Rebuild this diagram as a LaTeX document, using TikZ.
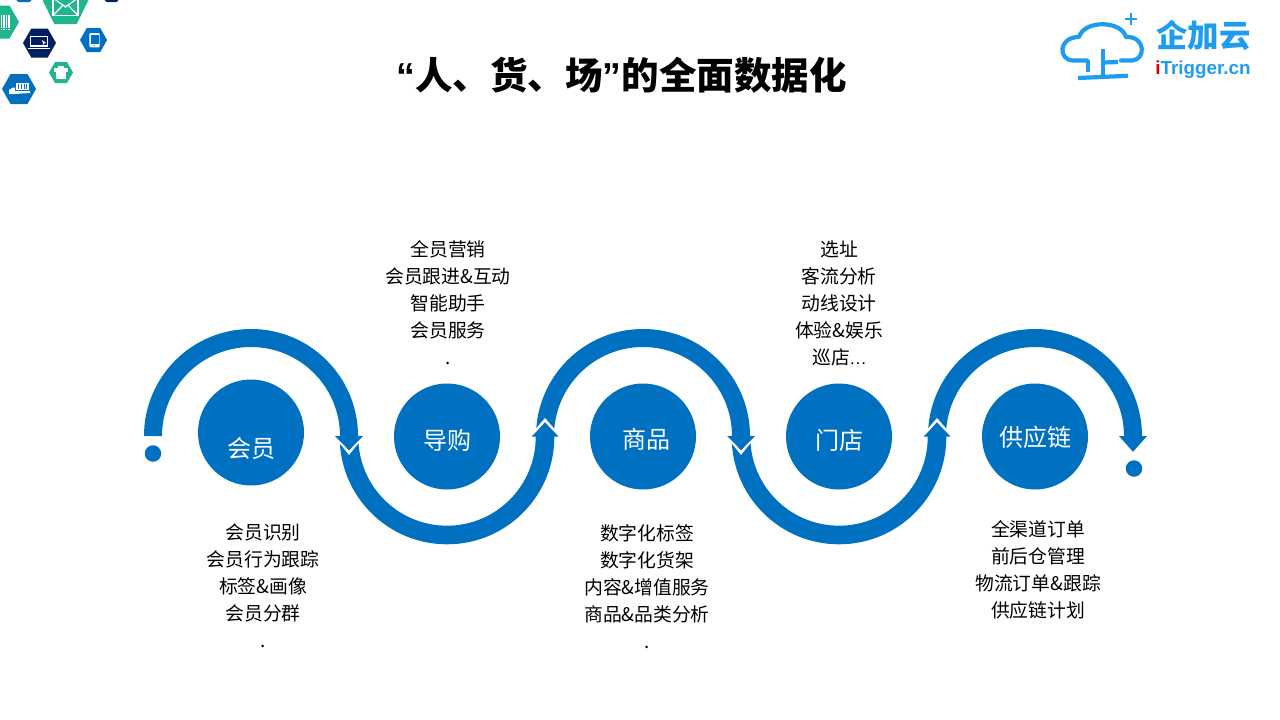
\documentclass[tikz,border=0pt]{standalone}
\usepackage{fontspec}
\setmainfont{Noto Sans CJK SC}
\newfontfamily\latinb[BoldFont={Liberation Sans Bold}]{Liberation Sans}
\definecolor{mainblue}{HTML}{0070C0}
\definecolor{hexgreen}{HTML}{1FB58F}
\definecolor{hexnavy}{HTML}{002060}
\definecolor{logoblue}{HTML}{1E9CF0}
\newcommand{\hexa}[5]{\fill[#1] ({#2-#4},#3) -- ({#2-#4/2},{#3-#5}) -- ({#2+#4/2},{#3-#5}) -- ({#2+#4},#3) -- ({#2+#4/2},{#3+#5}) -- ({#2-#4/2},{#3+#5}) -- cycle;}
\tikzset{
  band/.style={draw=mainblue,line width=18pt,line cap=butt},
  lowband/.style={draw=mainblue,line width=18.6pt,line cap=butt},
  stepdisc/.style={circle,fill=mainblue,minimum size=106pt,inner sep=0pt},
  enddot/.style={circle,fill=mainblue,minimum size=16.5pt,inner sep=0pt},
  disctext/.style={text=white,font=\fontsize{24}{26}\selectfont,inner sep=0pt},
  listtext/.style={text=black,align=center,inner sep=0pt,font=\fontsize{18.8}{27}\selectfont},
  headfill/.style={fill=mainblue},
  notch/.style={draw=white,line width=2.6pt,line join=miter},
  logoline/.style={draw=logoblue,line width=4.2pt,line cap=round,line join=round},
  iconline/.style={draw=white,line width=1.2pt},
}
\begin{document}
\begin{tikzpicture}[x=1pt,y=-1pt]
\useasboundingbox (0,0) rectangle (1280,720);
% ---- hex icons
\begin{scope}
\clip (0,0) rectangle (140,110);
\hexa{mainblue}{24}{-3}{11}{5}
\hexa{hexnavy}{111.5}{-3}{10}{5}
\hexa{hexgreen}{65.5}{1}{22.5}{23}
\draw[iconline] (53,-2) rectangle (78,15.5);
\draw[iconline] (53,15.5) -- (63,5) -- (65.5,7) -- (68,5) -- (78,15.5);
\draw[iconline] (53,-2) -- (65.5,7) -- (78,-2);
\hexa{hexgreen}{0}{22}{19}{16.5}
\foreach \bx in {1,3.4,5.8,8.2} {\fill[white] (\bx,15) rectangle ++(1.3,13);\fill[white] (\bx,29) rectangle ++(1.3,1.2);}
\hexa{hexnavy}{39.5}{43}{16.5}{14.5}
\draw[iconline] (30.5,36.5) rectangle (47.5,46);
\fill[white] (28,47.6) rectangle (50,49);
\fill[white] (42,40) -- (46,43) -- (44,43.5) -- (43.5,45) -- cycle;
\hexa{mainblue}{93.5}{40}{13.5}{12}
\fill[white,rounded corners=1pt] (89.3,33) rectangle (99.7,47.3);
\fill[mainblue] (90.5,35) rectangle (98.5,44.3);
\fill[mainblue] (94,45.8) circle (.6);
\hexa{hexgreen}{61}{72.5}{12}{10.5}
\fill[white] (56,68) rectangle (66,79);
\fill[white] (54,68) rectangle (68,71.5);
\fill[white] (58,66) rectangle (64,68);
\hexa{mainblue}{19}{89}{17}{15}
\fill[white] (16,83) rectangle (28.5,90);
\foreach \bx in {17.7,20.7,23.7,26.2} {\fill[mainblue] (\bx,84.2) rectangle ++(1.1,4.4);}
\fill[white] (9,90) -- (13,87.5) -- (15,87.5) -- (15,91) -- (30,91) -- (30,93) -- (22,93.5) -- (15,94) -- (9,94) -- cycle;
\end{scope}
% ---- title
\node[inner sep=0pt,font=\fontsize{37.5}{40}\bfseries\selectfont] (title) at (621.5,75) {{\latinb “}人、货、场{\latinb ”}的全面数据化};
% ---- logo
\draw[logoline] (1087,60.5) -- (1073,60.5) .. controls (1058,60) and (1058,37) .. (1079,37) .. controls (1084,20) and (1121,20) .. (1126,37) .. controls (1146,36) and (1146,60) .. (1132,60.5) -- (1121,60.5);
\draw[logoline,line cap=butt] (1088,60) -- (1088,72);
\draw[logoline,line cap=butt] (1103,49) -- (1103,77);
\draw[logoline,line cap=butt] (1103,62.5) -- (1118,62);
\draw[logoline,line cap=butt] (1078,78) -- (1128,75.8);
\draw[logoline,line width=2.6pt,line cap=butt] (1125,19) -- (1137,19) (1131,13) -- (1131,25);
\node[inner sep=0pt,anchor=center,text=logoblue,font=\fontsize{31.5}{33}\bfseries\selectfont] (logocn) at (1203.5,36) {企加云};
\node[inner sep=0pt,anchor=center,text=logoblue,font=\latinb\bfseries\fontsize{18.8}{20}\selectfont] (logoen) at (1203,70) {\textcolor{red!85!black}{i}Trigger.cn};
% ---- serpentine band
\draw[band] (153,436) arc[start angle=180,end angle=360,radius=98];
\draw[lowband] (349,436) -- (349,437) arc[start angle=180,end angle=0,radius=98] -- (545,436);
\draw[band] (545,436) arc[start angle=180,end angle=360,radius=98];
\draw[lowband] (741,436) -- (741,437) arc[start angle=180,end angle=0,radius=98] -- (937,436);
\draw[band] (937,436) arc[start angle=180,end angle=360,radius=98];
% ---- arrowheads
\foreach \ax in {349,741} {
  \draw[notch] (\ax-9.5,441) -- (\ax,452.8) -- (\ax+9.5,441);
  \fill[headfill] (\ax-14,436) -- (\ax+14,436) -- (\ax,450) -- cycle;
}
\foreach \ax in {545,937} {
  \draw[notch] (\ax-9.5,431) -- (\ax,420) -- (\ax+9.5,431);
  \fill[headfill] (\ax-13.5,436.5) -- (\ax+13.5,436.5) -- (\ax,423) -- cycle;
}
\fill[headfill] (1119,436) -- (1147,436) -- (1133,451.8) -- cycle;
% ---- dots
\node[enddot] (dotstart) at (153,453.5) {};
\node[enddot] (dotend) at (1134,468.5) {};
% ---- discs
\node[stepdisc] (d1) at (251,432.5) {};
\node[stepdisc] (d2) at (447,436.5) {};
\node[stepdisc] (d3) at (643,436.5) {};
\node[stepdisc] (d4) at (839,436.5) {};
\node[stepdisc] (d5) at (1035,436.5) {};
\node[disctext] (t1) at (251,448.5) {会员};
\node[disctext] (t2) at (447,440.5) {导购};
\node[disctext] (t3) at (646,439.5) {商品};
\node[disctext] (t4) at (839.5,440.5) {门店};
\node[disctext] (t5) at (1035,437) {供应链};
% ---- lists
\node[listtext] (l1) at (263,585.5) {会员识别\\会员行为跟踪\\标签\&画像\\会员分群\\.};
\node[listtext] (l2) at (448,302.5) {全员营销\\会员跟进\&互动\\智能助手\\会员服务\\.};
\node[listtext] (l3) at (647,586.5) {数字化标签\\数字化货架\\内容\&增值服务\\商品\&品类分析\\.};
\node[listtext] (l4) at (839,303) {选址\\客流分析\\动线设计\\体验\&娱乐\\巡店{\fontsize{15}{27}\selectfont …}};
\node[listtext] (l5) at (1038,569.5) {全渠道订单\\前后仓管理\\物流订单\&跟踪\\供应链计划};
\end{tikzpicture}
\end{document}
